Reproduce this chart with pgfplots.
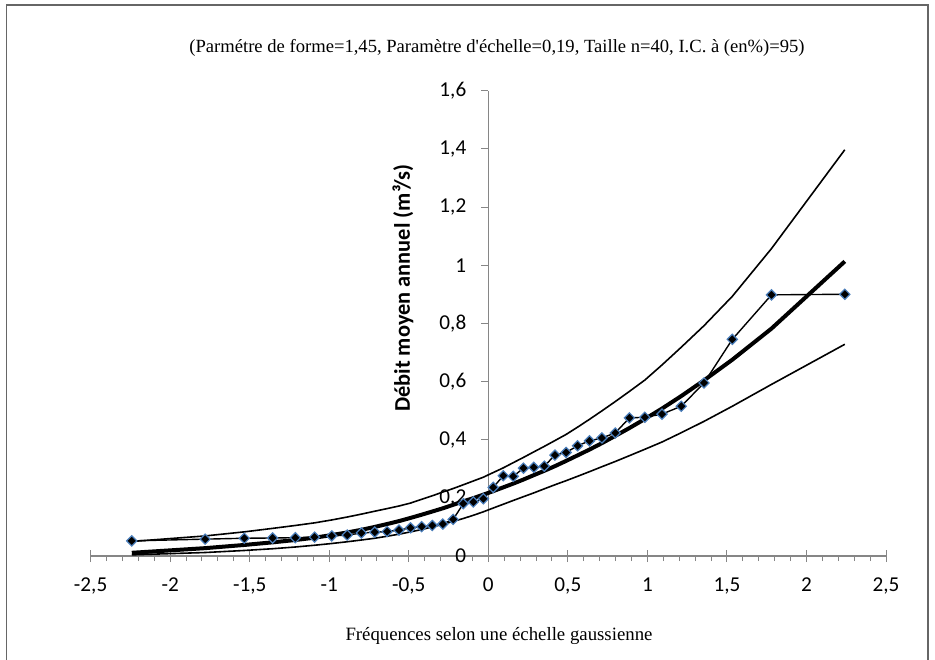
\documentclass[border=0pt]{standalone}
\usepackage{fontspec}
\setmainfont{Carlito}
\newfontfamily\tnr{Liberation Serif}
\usepackage{pgfplots}
\usepackage{pgfplotstable}
\pgfplotsset{compat=1.18}
\definecolor{axisgray}{HTML}{868686}
\definecolor{markblue}{HTML}{4A7EBB}

% z = variable gaussienne, obs = debits observes, fit = loi ajustee, low/up = I.C. 95%
\pgfplotstableread{
z obs fit low up
-2.241 0.052 0.011 0.004 0.050
-1.780 0.058 0.027 0.012 0.069
-1.534 0.061 0.038 0.019 0.083
-1.356 0.062 0.047 0.025 0.095
-1.213 0.063 0.055 0.031 0.105
-1.092 0.065 0.063 0.037 0.114
-0.984 0.069 0.072 0.043 0.124
-0.887 0.072 0.081 0.049 0.134
-0.798 0.079 0.090 0.055 0.144
-0.714 0.082 0.100 0.061 0.154
-0.636 0.084 0.110 0.068 0.163
-0.561 0.089 0.120 0.075 0.172
-0.489 0.097 0.131 0.083 0.182
-0.419 0.101 0.142 0.091 0.195
-0.352 0.105 0.153 0.100 0.207
-0.286 0.110 0.164 0.109 0.220
-0.221 0.126 0.176 0.119 0.232
-0.157 0.180 0.188 0.129 0.245
-0.094 0.186 0.199 0.140 0.258
-0.031 0.197 0.211 0.152 0.271
0.031 0.236 0.223 0.165 0.287
0.094 0.276 0.236 0.178 0.303
0.157 0.274 0.249 0.191 0.321
0.221 0.302 0.263 0.204 0.339
0.286 0.305 0.278 0.217 0.358
0.352 0.309 0.293 0.231 0.377
0.419 0.347 0.309 0.245 0.397
0.489 0.356 0.327 0.259 0.418
0.561 0.379 0.346 0.274 0.443
0.636 0.396 0.366 0.290 0.470
0.714 0.406 0.388 0.307 0.499
0.798 0.423 0.413 0.325 0.531
0.887 0.475 0.440 0.345 0.566
0.984 0.477 0.471 0.367 0.605
1.092 0.488 0.507 0.392 0.657
1.213 0.515 0.550 0.424 0.718
1.356 0.595 0.604 0.463 0.792
1.534 0.745 0.675 0.515 0.893
1.780 0.898 0.782 0.590 1.057
2.241 0.900 1.013 0.728 1.397
}\data

\begin{document}
\begin{tikzpicture}
\useasboundingbox (0,0) rectangle (467.5pt,329.5pt);
\draw[black!60, line width=0.6pt] (3.2pt,-5pt) rectangle (464pt,327pt);

\begin{axis}[
  at={(45.3pt,51.5pt)}, anchor=south west,
  scale only axis, width=397.7pt, height=232.65pt,
  xmin=-2.5, xmax=2.5, ymin=0, ymax=1.6,
  axis lines=middle,
  axis line style={axisgray, line width=0.6pt, -},
  hide obscured x ticks=false, hide obscured y ticks=false,
  xtick={-2.5,-2,...,2.5},
  ytick={0,0.2,...,1.6},
  minor x tick num=4,
  xtick align=center, ytick align=outside,
  major tick length=6pt,
  minor tick length=2.5pt,
  tick style={axisgray, line width=0.5pt},
  minor x tick style={yshift=-1.25pt},
  ytick style={/pgfplots/major tick length=3.5pt},
  /pgf/number format/use comma,
  /pgf/number format/assume math mode=true,
  ticklabel style={font=\fontsize{10.6}{12}\selectfont},
  xticklabel style={yshift=-4.5pt},
  yticklabel style={xshift=-1.5pt},
  clip=false,
]
\addplot[black, line width=0.8pt] table[x=z, y=up] {\data};
\addplot[black, line width=0.8pt] table[x=z, y=low] {\data};
\addplot[black, line width=2pt] table[x=z, y=fit] {\data};
\addplot[black, line width=0.7pt, mark=square*, mark size=1.8pt,
  mark options={rotate=45, fill=black, draw=markblue, line width=0.6pt}]
  table[x=z, y=obs] {\data};
\end{axis}

\node[font=\tnr\fontsize{9.3}{11}\selectfont] at (248.5pt,305.5pt)
  {(Parmétre de forme=1,45, Paramètre d'échelle=0,19, Taille n=40, I.C. à (en\%)=95)};
\node[font=\tnr\fontsize{9.4}{11}\selectfont] at (249.5pt,11.5pt)
  {Fréquences selon une échelle gaussienne};
\node[font=\bfseries\fontsize{11.2}{13}\selectfont, rotate=90] at (201.5pt,185.5pt)
  {Débit moyen annuel (m³/s)};
\end{tikzpicture}
\end{document}
